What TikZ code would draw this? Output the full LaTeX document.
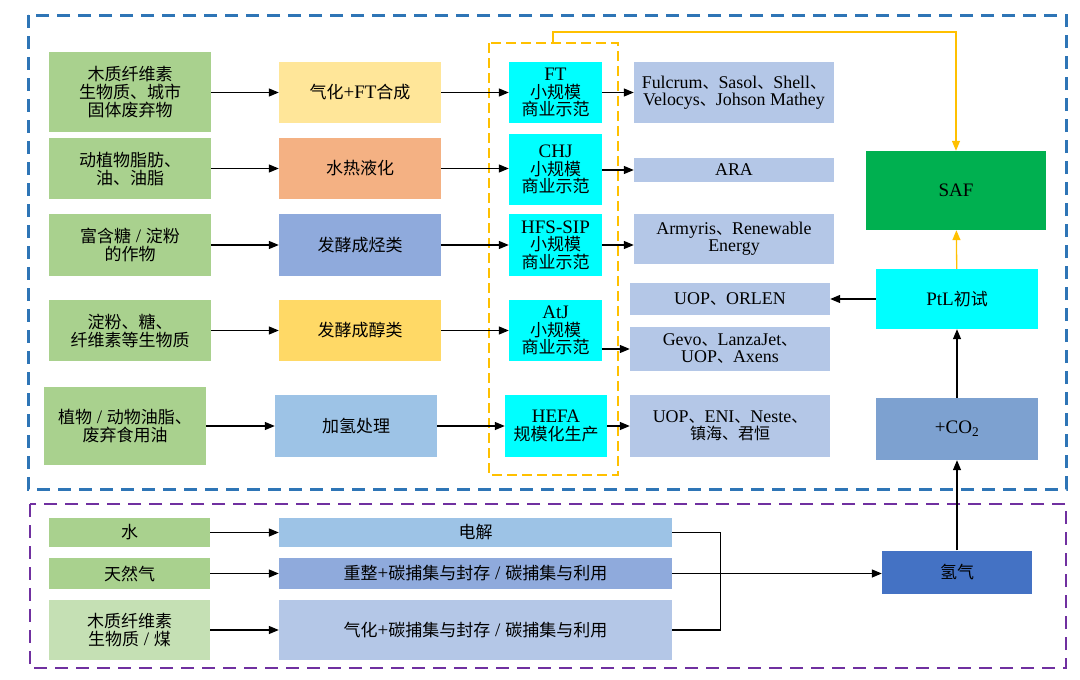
\documentclass[tikz,border=0pt]{standalone}
\usepackage{fontspec}
\setmainfont{Liberation Serif}[Scale=1.12]
\newfontfamily\cjkfont{Noto Sans CJK SC}
\usetikzlibrary{arrows.meta}
\XeTeXinterchartokenstate=1
\newXeTeXintercharclass\cjkclass
\newcount\cjkcnt
\cjkcnt="3000 \loop\XeTeXcharclass\cjkcnt=\cjkclass\advance\cjkcnt by 1 \ifnum\cjkcnt<"3040 \repeat
\cjkcnt="4E00 \loop\XeTeXcharclass\cjkcnt=\cjkclass\advance\cjkcnt by 1 \ifnum\cjkcnt<"A000 \repeat
\cjkcnt="FF00 \loop\XeTeXcharclass\cjkcnt=\cjkclass\advance\cjkcnt by 1 \ifnum\cjkcnt<"FFF0 \repeat
\XeTeXinterchartoks 0 \cjkclass = {\cjkfont}
\XeTeXinterchartoks 4095 \cjkclass = {\cjkfont}
\XeTeXinterchartoks \cjkclass 0 = {\rmfamily}
\XeTeXinterchartoks \cjkclass 4095 = {\rmfamily}
\definecolor{frameblue}{HTML}{2E75B6}
\definecolor{framepurple}{HTML}{7030A0}
\definecolor{gold}{HTML}{FFC000}
\definecolor{cgreen}{HTML}{A9D18E}
\definecolor{clgreen}{HTML}{C5E0B4}
\definecolor{cyellow}{HTML}{FFE699}
\definecolor{corange}{HTML}{F4B183}
\definecolor{cblue}{HTML}{8FAADC}
\definecolor{cgold}{HTML}{FFD966}
\definecolor{clblue}{HTML}{9DC3E6}
\definecolor{ccomp}{HTML}{B4C7E7}
\definecolor{csaf}{HTML}{00B050}
\definecolor{cco}{HTML}{7DA1D0}
\definecolor{chtwo}{HTML}{4472C4}
\definecolor{ccyan}{HTML}{00FFFF}
\begin{document}
\begin{tikzpicture}[x=1pt,y=-1pt,
  bx/.style={inner sep=0pt, align=center, font=\fontsize{17}{18}\selectfont},
  sbx/.style={inner sep=0pt, align=center, font=\fontsize{16}{17}\selectfont},
  cbx/.style={inner sep=0pt, align=center, font=\fontsize{17}{17.5}\selectfont},
  arr/.style={-{Triangle[length=10pt,width=8pt]}, line width=1.3pt, black},
  oarr/.style={-{Triangle[length=10pt,width=8pt]}, line width=1.3pt, gold},
  plain/.style={line width=1.3pt, black},
  bluedash/.style={draw=frameblue, line width=3pt, dash pattern=on 13pt off 8pt},
  purpledash/.style={draw=framepurple, line width=2.5pt, dash pattern=on 13pt off 8pt},
  golddash/.style={draw=gold, line width=2pt, dash pattern=on 10pt off 5pt}]
\useasboundingbox (0,0) rectangle (1080,680);
\fill[white] (0,0) rectangle (1080,680);
% frames
\draw[bluedash] (28,15) rectangle (1066,489);
\draw[purpledash] (30,504) rectangle (1066,668);
\draw[golddash] (489,43) rectangle (618,475);
\coordinate (ob) at (553,43);
% sources
\node[bx, fill=cgreen, minimum width=162, minimum height=80] (g1) at (130,92) {木质纤维素\\生物质、城市\\固体废弃物};
\node[bx, fill=cgreen, minimum width=162, minimum height=61] (g2) at (130,168.5) {动植物脂肪、\\油、油脂};
\node[bx, fill=cgreen, minimum width=162, minimum height=62] (g3) at (130,245) {富含糖 / 淀粉\\的作物};
\node[bx, fill=cgreen, minimum width=162, minimum height=61] (g4) at (130,330.5) {淀粉、糖、\\纤维素等生物质};
\node[bx, fill=cgreen, minimum width=162, minimum height=78] (g5) at (125,426) {植物 / 动物油脂、\\废弃食用油};
% processes
\node[bx, fill=cyellow, minimum width=162, minimum height=61] (p1) at (360,92.5) {气化+FT合成};
\node[bx, fill=corange, minimum width=162, minimum height=61] (p2) at (360,168.5) {水热液化};
\node[bx, fill=cblue, minimum width=162, minimum height=62] (p3) at (360,245) {发酵成烃类};
\node[bx, fill=cgold, minimum width=162, minimum height=61] (p4) at (360,330.5) {发酵成醇类};
\node[bx, fill=clblue, minimum width=162, minimum height=62] (p5) at (356,426) {加氢处理};
% pathways
\node[cbx, fill=ccyan, minimum width=93, minimum height=61] (c1) at (555.5,92.5) {FT\\小规模\\商业示范};
\node[cbx, fill=ccyan, minimum width=93, minimum height=71] (c2) at (555.5,169.5) {CHJ\\小规模\\商业示范};
\node[cbx, fill=ccyan, minimum width=93, minimum height=62] (c3) at (555.5,245) {HFS-SIP\\小规模\\商业示范};
\node[cbx, fill=ccyan, minimum width=93, minimum height=61] (c4) at (555.5,330.5) {AtJ\\小规模\\商业示范};
\node[cbx, fill=ccyan, minimum width=102, minimum height=62] (c5) at (556,426) {HEFA\\规模化生产};
% companies
\node[sbx, fill=ccomp, minimum width=200, minimum height=61] (e1) at (734,92.5) {Fulcrum、Sasol、Shell、\\Velocys、Johson Mathey};
\node[sbx, fill=ccomp, minimum width=200, minimum height=24] (e2) at (734,170) {ARA};
\node[sbx, fill=ccomp, minimum width=200, minimum height=50] (e3) at (734,239) {Armyris、Renewable\\Energy};
\node[sbx, fill=ccomp, minimum width=200, minimum height=32] (e4) at (730,299) {UOP、ORLEN};
\node[sbx, fill=ccomp, minimum width=200, minimum height=44] (e5) at (730,349) {Gevo、LanzaJet、\\UOP、Axens};
\node[sbx, fill=ccomp, minimum width=200, minimum height=62] (e6) at (730,426) {UOP、ENI、Neste、\\镇海、君恒};
% right column
\node[bx, fill=csaf, minimum width=180, minimum height=79] (saf) at (956,190.5) {SAF};
\node[bx, fill=ccyan, minimum width=162, minimum height=60] (ptl) at (957,299) {PtL初试};
\node[bx, fill=cco, minimum width=162, minimum height=62] (co2) at (957,429) {+CO\textsubscript{2}};
\node[bx, fill=chtwo, minimum width=150, minimum height=43] (h2) at (957,572) {氢气};
% bottom
\node[bx, fill=cgreen, minimum width=161, minimum height=29] (b1) at (129.5,532.5) {水};
\node[bx, fill=cgreen, minimum width=161, minimum height=31] (b2) at (129.5,573.5) {天然气};
\node[bx, fill=clgreen, minimum width=161, minimum height=60] (b3) at (129.5,630) {木质纤维素\\生物质 / 煤};
\node[bx, fill=clblue, minimum width=393, minimum height=29] (q1) at (475.5,532.5) {电解};
\node[bx, fill=cblue, minimum width=393, minimum height=31] (q2) at (475.5,573.5) {重整+碳捕集与封存 / 碳捕集与利用};
\node[bx, fill=ccomp, minimum width=393, minimum height=60] (q3) at (475.5,630) {气化+碳捕集与封存 / 碳捕集与利用};
% arrows source -> process
\draw[arr] (g1.east |- p1) -- (p1.west);
\draw[arr] (g2.east |- p2) -- (p2.west);
\draw[arr] (g3.east |- p3) -- (p3.west);
\draw[arr] (g4.east |- p4) -- (p4.west);
\draw[arr] (g5.east |- p5) -- (p5.west);
% process -> pathway
\draw[arr] (p1.east) -- (c1.west);
\draw[arr] (p2.east) -- (p2.east -| c2.west);
\draw[arr] (p3.east) -- (c3.west);
\draw[arr] (p4.east) -- (c4.west);
\draw[arr] (p5.east) -- (c5.west);
% pathway -> companies
\draw[arr] (c1.east) -- (e1.west);
\draw[arr] (c2.east |- e2) -- (e2.west);
\draw[arr] (c3.east) -- (c3.east -| e3.west);
\draw[arr] (c4.east |- e5) -- (e5.west);
\draw[arr] (c5.east) -- (e6.west);
% right column
\draw[oarr] (ob) -- ++(0,-11) -| (saf.north);
\draw[oarr] (ptl) -- (saf);
\draw[arr] (ptl.west) -- (e4.east);
\draw[arr] (co2) -- (ptl);
\draw[arr] (h2) -- (co2);
% bottom arrows
\draw[arr] (b1) -- (q1);
\draw[arr] (b2) -- (q2);
\draw[arr] (b3) -- (q3);
\draw[plain] (q1.east) -- ++(48,0) |- (q3.east);
\draw[arr] (q2.east) -- (q2.east -| h2.west);
\end{tikzpicture}
\end{document}
